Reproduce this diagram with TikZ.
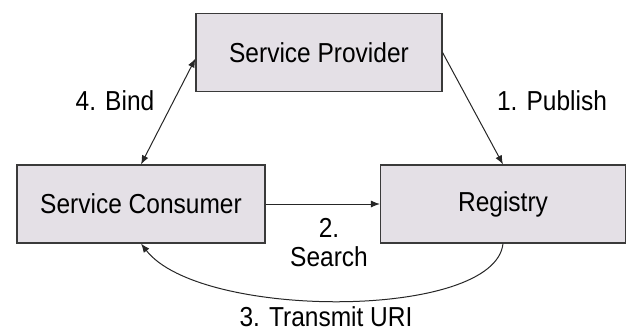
\documentclass[tikz,border=0pt]{standalone}
\usepackage{fontspec}
\usepackage{graphicx}
\setmainfont{Liberation Sans}
\usetikzlibrary{arrows.meta}
\definecolor{boxfill}{HTML}{E4E0E6}
\definecolor{boxline}{HTML}{3A3A3A}
\newcommand{\talltext}[1]{\scalebox{1}[1.12]{#1}}
\begin{document}
\begin{tikzpicture}[x=1pt,y=-1pt,
  box/.style={draw=boxline,line width=1.1pt,fill=boxfill,inner sep=0pt,minimum height=78pt,font=\fontsize{24.5}{28}\selectfont},
  lbl/.style={inner sep=0pt,font=\fontsize{24.5}{28}\selectfont},
  conn/.style={line width=1pt,draw=black!85,-{Latex[length=9pt,width=7pt]}}]
\useasboundingbox (0,0) rectangle (627,333);
\node[box,minimum width=246pt] (sp) at (319,52.5) {\talltext{Service Provider}};
\node[box,minimum width=248pt] (cons) at (141,204) {\talltext{Service Consumer}};
\node[box,minimum width=245pt] (reg) at (503,204) {\talltext{Registry}};
\draw[conn] (sp.east) -- (reg.north);
\draw[conn,{Latex[length=9pt,width=7pt]}-{Latex[length=9pt,width=7pt]}] ([yshift=-6pt]sp.west) -- (cons.north);
\draw[conn] (cons.east) -- (reg.west);
\draw[conn] (reg.south) .. controls (495,320) and (200,320) .. (cons.south);
\node[lbl] (lpub) at (552,101) {\talltext{1. Publish}};
\node[lbl] (lbind) at (115,101) {\talltext{4. Bind}};
\node[lbl] (lsr1) at (329,228) {\talltext{2.}};
\node[lbl] (lsr2) at (329,257) {\talltext{Search}};
\node[lbl] (ltr) at (326,317) {\talltext{3. Transmit URI}};
\end{tikzpicture}
\end{document}
